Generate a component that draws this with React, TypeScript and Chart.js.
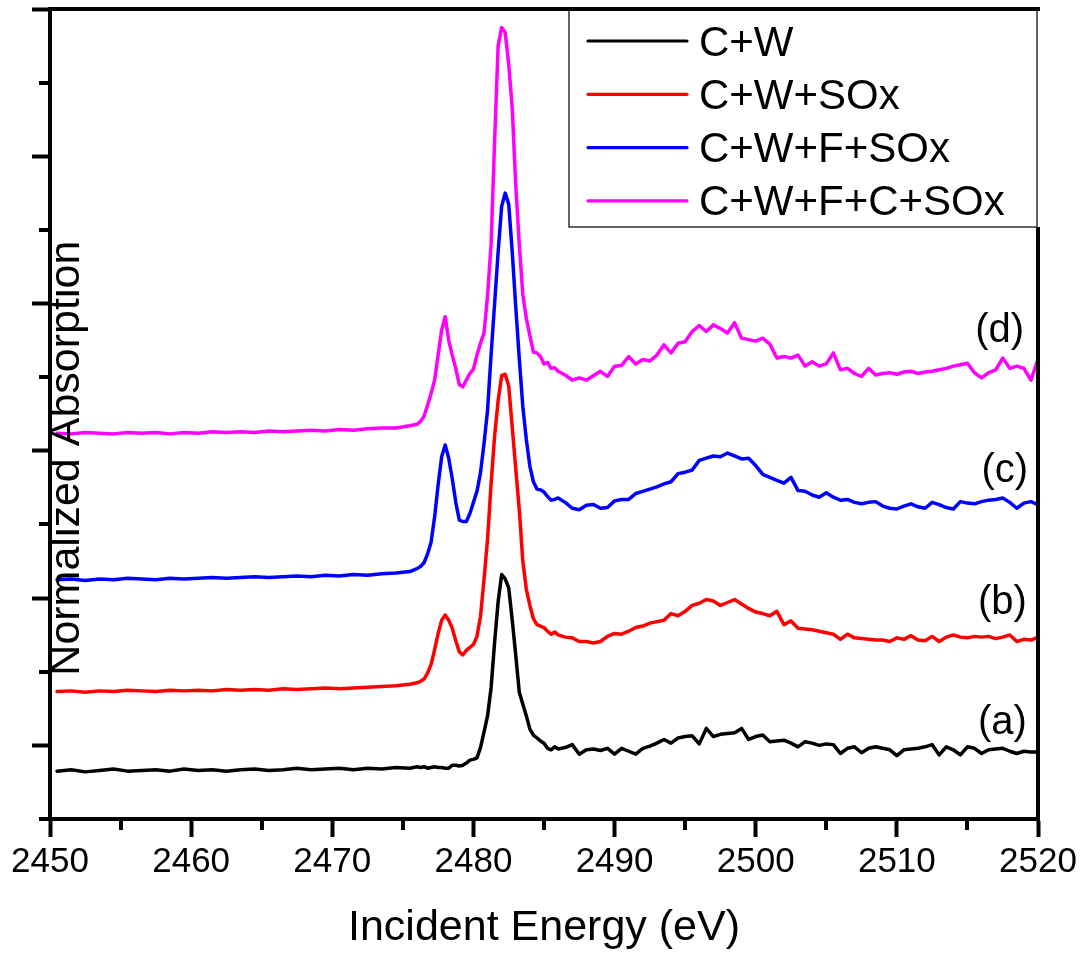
import React, { useEffect, useRef } from 'react';
import { Chart, registerables } from 'chart.js';

Chart.register(...registerables);

const FONT = "'Liberation Sans', Arial, Helvetica, sans-serif";

// Incident energy grid (eV): 1 eV pre-edge, 0.25 eV across the edge, 0.5 eV post-edge
const energies = [
  2450.5, 2451.5, 2452.5, 2453.5, 2454.5, 2455.5, 2456.5, 2457.5, 2458.5, 2459.5,
  2460.5, 2461.5, 2462.5, 2463.5, 2464.5, 2465.5, 2466.5, 2467.5, 2468.5, 2469.5,
  2470.5, 2471.5, 2472.5, 2473.5, 2474.5, 2475.5,
  2476, 2476.25, 2476.5, 2476.75, 2477, 2477.25, 2477.5, 2477.75, 2478, 2478.25,
  2478.5, 2478.75, 2479, 2479.25, 2479.5, 2479.75, 2480, 2480.25, 2480.5, 2480.75,
  2481, 2481.25, 2481.5, 2481.75, 2482, 2482.25, 2482.5, 2482.75, 2483, 2483.25,
  2483.5, 2483.75, 2484, 2484.25, 2484.5, 2484.75, 2485, 2485.25, 2485.5, 2485.75,
  2486,
  2486.5, 2487, 2487.5, 2488, 2488.5, 2489, 2489.5, 2490,
  2490.5, 2491, 2491.5, 2492, 2492.5, 2493, 2493.5, 2494,
  2494.5, 2495, 2495.5, 2496, 2496.5, 2497, 2497.5, 2498,
  2498.5, 2499, 2499.5, 2500, 2500.5, 2501, 2501.5, 2502,
  2502.5, 2503, 2503.5, 2504, 2504.5, 2505, 2505.5, 2506,
  2506.5, 2507, 2507.5, 2508, 2508.5, 2509, 2509.5, 2510,
  2510.5, 2511, 2511.5, 2512, 2512.5, 2513, 2513.5, 2514,
  2514.5, 2515, 2515.5, 2516, 2516.5, 2517, 2517.5, 2518,
  2518.5, 2519, 2519.5, 2520,
];

// (a) C+W
const cwValues = [
  -0.035, -0.033, -0.036, -0.034, -0.032, -0.035, -0.034, -0.033, -0.035, -0.032,
  -0.034, -0.033, -0.035, -0.033, -0.032, -0.034, -0.033, -0.031, -0.033, -0.032,
  -0.031, -0.033, -0.031, -0.032, -0.030, -0.031,
  -0.029, -0.030, -0.029, -0.031, -0.030, -0.029, -0.030, -0.030, -0.031, -0.031,
  -0.027, -0.027, -0.028, -0.027, -0.024, -0.020, -0.019, -0.017, -0.003, 0.018,
  0.040, 0.078, 0.140, 0.195, 0.232, 0.226, 0.214, 0.170, 0.122, 0.072,
  0.056, 0.040, 0.022, 0.014, 0.010, 0.006, 0.003, -0.004, -0.006, -0.002,
  -0.005,
  -0.003, 0.001, -0.012, -0.006, -0.005, -0.007, -0.004, -0.012,
  -0.004, -0.008, -0.012, -0.004, -0.001, 0.003, 0.008, 0.003,
  0.010, 0.012, 0.013, 0.002, 0.023, 0.012, 0.015, 0.016,
  0.017, 0.023, 0.008, 0.012, 0.014, 0.005, 0.006, 0.007,
  0.003, -0.002, 0.005, 0.003, 0.000, 0.002, 0.001, -0.011,
  -0.004, -0.002, -0.010, -0.004, -0.002, -0.004, -0.006, -0.014,
  -0.006, -0.005, -0.004, -0.002, 0.001, -0.013, -0.002, -0.006,
  -0.013, -0.002, -0.004, -0.011, -0.006, -0.005, -0.004, -0.008,
  -0.011, -0.008, -0.009, -0.009,
];

// (b) C+W+SOx
const cwSoxValues = [
  0.073, 0.074, 0.072, 0.074, 0.073, 0.075, 0.074, 0.073, 0.075, 0.074,
  0.075, 0.074, 0.076, 0.075, 0.076, 0.075, 0.077, 0.076, 0.077, 0.078,
  0.077, 0.078, 0.079, 0.080, 0.081, 0.083,
  0.085, 0.087, 0.090, 0.098, 0.110, 0.130, 0.152, 0.170, 0.177, 0.170,
  0.159, 0.142, 0.127, 0.123, 0.129, 0.133, 0.137, 0.148, 0.175, 0.225,
  0.280, 0.355, 0.420, 0.468, 0.502, 0.504, 0.488, 0.432, 0.375, 0.320,
  0.250, 0.212, 0.190, 0.172, 0.164, 0.162, 0.160, 0.155, 0.151, 0.154,
  0.150,
  0.147, 0.146, 0.141, 0.141, 0.139, 0.141, 0.148, 0.152,
  0.151, 0.155, 0.160, 0.162, 0.166, 0.168, 0.170, 0.179,
  0.176, 0.182, 0.190, 0.193, 0.198, 0.196, 0.190, 0.194,
  0.198, 0.192, 0.186, 0.181, 0.179, 0.176, 0.182, 0.164,
  0.169, 0.159, 0.158, 0.157, 0.155, 0.153, 0.151, 0.144,
  0.151, 0.146, 0.145, 0.144, 0.143, 0.143, 0.141, 0.146,
  0.144, 0.149, 0.143, 0.142, 0.148, 0.141, 0.147, 0.150,
  0.147, 0.146, 0.148, 0.147, 0.148, 0.145, 0.147, 0.150,
  0.141, 0.144, 0.143, 0.147,
];

// (c) C+W+F+SOx
const cwfSoxValues = [
  0.225, 0.226, 0.224, 0.226, 0.225, 0.227, 0.226, 0.225, 0.227, 0.226,
  0.227, 0.228, 0.227, 0.228, 0.229, 0.228, 0.229, 0.230, 0.229, 0.231,
  0.230, 0.232, 0.231, 0.233, 0.234, 0.236,
  0.240, 0.243, 0.248, 0.260, 0.276, 0.310, 0.354, 0.392, 0.408, 0.390,
  0.362, 0.330, 0.306, 0.304, 0.304, 0.315, 0.330, 0.345, 0.370, 0.410,
  0.455, 0.530, 0.600, 0.670, 0.732, 0.750, 0.735, 0.670, 0.595, 0.525,
  0.460, 0.415, 0.379, 0.358, 0.348, 0.347, 0.344, 0.338, 0.333, 0.334,
  0.336,
  0.330, 0.322, 0.320, 0.326, 0.327, 0.322, 0.323, 0.332,
  0.334, 0.334, 0.342, 0.345, 0.348, 0.351, 0.355, 0.358,
  0.369, 0.371, 0.374, 0.387, 0.390, 0.393, 0.392, 0.397,
  0.393, 0.389, 0.390, 0.380, 0.368, 0.364, 0.360, 0.356,
  0.364, 0.346, 0.345, 0.340, 0.337, 0.343, 0.337, 0.333,
  0.334, 0.330, 0.328, 0.330, 0.331, 0.325, 0.322, 0.321,
  0.325, 0.328, 0.324, 0.322, 0.330, 0.327, 0.323, 0.321,
  0.331, 0.329, 0.328, 0.331, 0.333, 0.334, 0.336, 0.330,
  0.322, 0.329, 0.331, 0.327,
];

// (d) C+W+F+C+SOx
const cwfcSoxValues = [
  0.424, 0.423, 0.425, 0.424, 0.423, 0.425, 0.424, 0.425, 0.423, 0.425,
  0.424, 0.426, 0.425, 0.426, 0.425, 0.427, 0.426, 0.427, 0.428, 0.427,
  0.429, 0.428, 0.430, 0.431, 0.431, 0.434,
  0.436, 0.440, 0.447, 0.462, 0.478, 0.496, 0.530, 0.564, 0.582, 0.550,
  0.530, 0.512, 0.490, 0.487, 0.496, 0.505, 0.511, 0.530, 0.546, 0.560,
  0.610, 0.680, 0.820, 0.950, 0.975, 0.968, 0.925, 0.865, 0.760, 0.680,
  0.612, 0.580, 0.556, 0.534, 0.533, 0.528, 0.518, 0.520, 0.512, 0.513,
  0.508,
  0.503, 0.496, 0.499, 0.496, 0.502, 0.508, 0.501, 0.515,
  0.516, 0.528, 0.518, 0.524, 0.522, 0.530, 0.544, 0.533,
  0.546, 0.548, 0.562, 0.570, 0.562, 0.571, 0.566, 0.560,
  0.574, 0.553, 0.551, 0.549, 0.553, 0.545, 0.526, 0.528,
  0.526, 0.530, 0.515, 0.521, 0.515, 0.518, 0.533, 0.510,
  0.512, 0.505, 0.501, 0.512, 0.503, 0.505, 0.506, 0.504,
  0.507, 0.508, 0.505, 0.507, 0.508, 0.510, 0.512, 0.515,
  0.517, 0.519, 0.506, 0.499, 0.506, 0.510, 0.526, 0.512,
  0.515, 0.512, 0.496, 0.524,
];

const seriesValues = [cwValues, cwSoxValues, cwfSoxValues, cwfcSoxValues];
const seriesLabels = ['C+W', 'C+W+SOx', 'C+W+F+SOx', 'C+W+F+C+SOx'];
const seriesColors = ['#000000', '#ff0000', '#0000ff', '#ff00ff'];
const curveTags = ['(a)', '(b)', '(c)', '(d)'];

// Axis ticks
const xMajorTicks = [2450, 2460, 2470, 2480, 2490, 2500, 2510, 2520];
const xMinorTicks = [2455, 2465, 2475, 2485, 2495, 2505, 2515];
const yMajorTicks = [0, 0.2, 0.4, 0.6, 0.8, 1.0];
const yMinorTicks = [-0.1, 0.1, 0.3, 0.5, 0.7, 0.9];

// Where each curve tag sits (energy, value of its text baseline)
const tagAnchors = [
  { x: 2515.75, y: 0.016 },
  { x: 2515.75, y: 0.1785 },
  { x: 2516.0, y: 0.358 },
  { x: 2515.55, y: 0.548 },
];

const overlayPlugin = {
  id: 'overlay',
  afterDraw(chart: any) {
    const { ctx, chartArea: a, scales } = chart;
    const xs = scales.x;
    const ys = scales.y;
    ctx.save();

    // short minor ticks
    ctx.strokeStyle = '#000';
    ctx.lineWidth = 4;
    ctx.lineCap = 'butt';
    ctx.beginPath();
    xMinorTicks.forEach((v) => {
      const px = Math.round(xs.getPixelForValue(v));
      ctx.moveTo(px, a.bottom);
      ctx.lineTo(px, a.bottom + 11);
    });
    yMinorTicks.forEach((v) => {
      const py = Math.round(ys.getPixelForValue(v));
      ctx.moveTo(a.left, py);
      ctx.lineTo(a.left - 11, py);
    });
    ctx.stroke();

    // right frame line
    ctx.beginPath();
    ctx.moveTo(a.right, a.top);
    ctx.lineTo(a.right, a.bottom + 2);
    ctx.stroke();

    // legend
    const lx = 569;
    const ly = a.top;
    const lw = a.right - 1 - lx;
    const lh = 218;
    ctx.fillStyle = '#ffffff';
    ctx.fillRect(lx, ly, a.right + 3 - lx, lh);
    ctx.strokeStyle = '#333333';
    ctx.lineWidth = 1.5;
    ctx.strokeRect(lx, ly, lw, lh);
    ctx.font = `42px ${FONT}`;
    ctx.textAlign = 'left';
    ctx.textBaseline = 'alphabetic';
    chart.data.datasets.forEach((ds: any, i: number) => {
      const rowY = ly + 32 + i * 53.3;
      ctx.strokeStyle = ds.borderColor;
      ctx.lineWidth = 3.2;
      ctx.lineCap = 'round';
      ctx.beginPath();
      ctx.moveTo(588, rowY);
      ctx.lineTo(687, rowY);
      ctx.stroke();
      ctx.fillStyle = '#000';
      ctx.fillText(ds.label, 699, rowY + 14.5);
    });

    // top frame line over everything
    ctx.strokeStyle = '#000';
    ctx.lineWidth = 4;
    ctx.lineCap = 'butt';
    ctx.beginPath();
    ctx.moveTo(a.left - 2, a.top);
    ctx.lineTo(a.right + 2, a.top);
    ctx.stroke();

    // curve tags
    ctx.fillStyle = '#000';
    ctx.font = `40px ${FONT}`;
    curveTags.forEach((t, i) => {
      ctx.fillText(t, xs.getPixelForValue(tagAnchors[i].x), ys.getPixelForValue(tagAnchors[i].y));
    });

    // y-axis title, set just inside the plot frame
    ctx.save();
    ctx.translate(a.left + 17, (ys.getPixelForValue(0.09) + ys.getPixelForValue(0.69)) / 2);
    ctx.rotate(-Math.PI / 2);
    ctx.font = `43px ${FONT}`;
    ctx.textAlign = 'center';
    ctx.textBaseline = 'middle';
    ctx.fillText('Normalized Absorption', 0, 0);
    ctx.restore();

    ctx.restore();
  },
};

export default function App() {
  const canvasRef = useRef<HTMLCanvasElement>(null);

  useEffect(() => {
    const canvas = canvasRef.current;
    if (!canvas) return;
    const axisGrid = {
      display: true,
      drawOnChartArea: false,
      drawTicks: true,
      tickLength: 18,
      tickWidth: 4,
      tickColor: '#000',
    };
    const axisBorder = { display: true, width: 4, color: '#000' };
    const chart = new Chart(canvas, {
      type: 'line',
      data: {
        datasets: seriesValues.map((vals, i) => ({
          label: seriesLabels[i],
          data: energies.map((e, j) => ({ x: e, y: vals[j] })),
          borderColor: seriesColors[i],
          backgroundColor: seriesColors[i],
          borderWidth: 3.5,
          pointRadius: 0,
          tension: 0,
          fill: false,
          borderJoinStyle: 'round',
          borderCapStyle: 'round',
        })),
      },
      options: {
        responsive: false,
        animation: false,
        devicePixelRatio: 1,
        layout: { padding: { left: 0, top: 9, right: 48, bottom: 0 } },
        plugins: {
          legend: { display: false },
          tooltip: { enabled: false },
        },
        scales: {
          x: {
            type: 'linear',
            position: 'bottom',
            min: 2450,
            max: 2520,
            afterBuildTicks: (s: any) => {
              s.ticks = xMajorTicks.map((v) => ({ value: v }));
            },
            afterFit: (s: any) => {
              s.height = 135;
            },
            ticks: {
              color: '#000',
              font: { family: FONT, size: 35 },
              padding: 4,
              autoSkip: false,
              maxRotation: 0,
              callback: (v: any) => String(v),
            },
            grid: axisGrid,
            border: axisBorder,
            title: {
              display: true,
              text: 'Incident Energy (eV)',
              color: '#000',
              font: { family: FONT, size: 43 },
              padding: { top: 0, bottom: 0 },
            },
          },
          y: {
            type: 'linear',
            position: 'left',
            min: -0.1,
            max: 1.0,
            afterBuildTicks: (s: any) => {
              s.ticks = yMajorTicks.map((v) => ({ value: v }));
            },
            afterFit: (s: any) => {
              s.width = 50;
            },
            ticks: { display: false },
            grid: axisGrid,
            border: axisBorder,
          },
        },
      } as any,
      plugins: [overlayPlugin],
    });
    return () => chart.destroy();
  }, []);

  return (
    <div style={{ position: 'absolute', left: 0, top: 0, width: 1086, height: 954, background: '#fff' }}>
      <canvas ref={canvasRef} width={1086} height={954} style={{ display: 'block' }} />
    </div>
  );
}
